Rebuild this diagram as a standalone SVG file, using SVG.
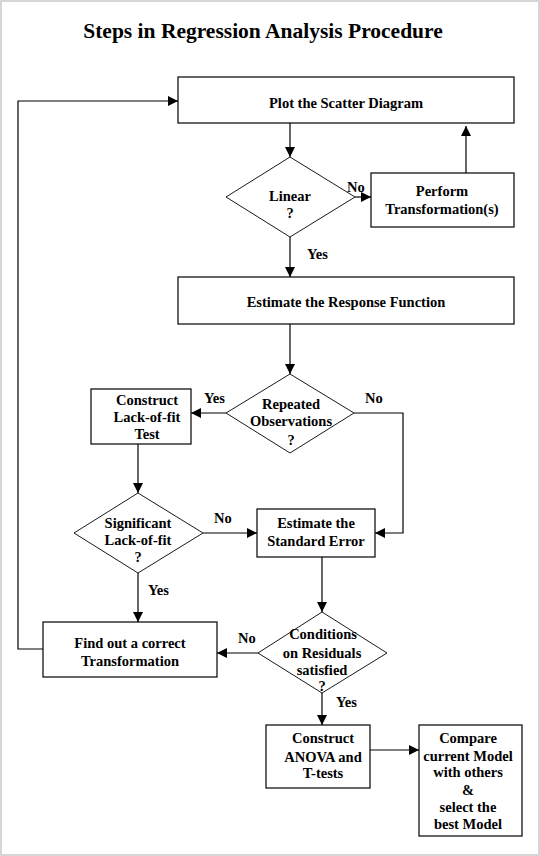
<svg xmlns="http://www.w3.org/2000/svg" width="540" height="856" viewBox="0 0 540 856">
<style>
.box{fill:#fff;stroke:#000;stroke-width:1.2}
.dia{fill:#fff;stroke:#000;stroke-width:0.9}
.t{font-family:"Liberation Serif","Times New Roman",serif;font-weight:bold;font-size:14.5px;fill:#000;text-anchor:middle}
.l{font-family:"Liberation Serif","Times New Roman",serif;font-weight:bold;font-size:14.5px;fill:#000}
.c{fill:none;stroke:#000;stroke-width:1.2}
</style>
<defs>
<marker id="ah" markerUnits="userSpaceOnUse" markerWidth="10" markerHeight="10" refX="10" refY="5" orient="auto" viewBox="0 0 10 10">
<path d="M0,0 L10,5 L0,10 z" fill="#000"/>
</marker>
</defs>
<rect x="1" y="1" width="538" height="854" fill="#fff" stroke="#d6d6d6" stroke-width="2"/>
<text x="263" y="38" style="font-family:'Liberation Serif','Times New Roman',serif;font-weight:bold;font-size:21.5px;text-anchor:middle">Steps in Regression Analysis Procedure</text>

<g id="connectors">
<line class="c" x1="290" y1="123" x2="290" y2="157" marker-end="url(#ah)"/>
<line class="c" x1="355" y1="197" x2="371" y2="197" marker-end="url(#ah)"/>
<line class="c" x1="466" y1="173" x2="466" y2="126" marker-end="url(#ah)"/>
<line class="c" x1="290" y1="237" x2="290" y2="277" marker-end="url(#ah)"/>
<line class="c" x1="290" y1="324" x2="290" y2="374" marker-end="url(#ah)"/>
<line class="c" x1="226" y1="413" x2="191" y2="413" marker-end="url(#ah)"/>
<polyline class="c" points="354,413 403,413 403,533 375,533" marker-end="url(#ah)"/>
<line class="c" x1="138" y1="444" x2="138" y2="493" marker-end="url(#ah)"/>
<line class="c" x1="203" y1="533" x2="257" y2="533" marker-end="url(#ah)"/>
<line class="c" x1="322" y1="557" x2="322" y2="612" marker-end="url(#ah)"/>
<line class="c" x1="258" y1="653" x2="217" y2="653" marker-end="url(#ah)"/>
<line class="c" x1="138" y1="573" x2="138" y2="622" marker-end="url(#ah)"/>
<polyline class="c" points="43,649 18,649 18,101 178,101" marker-end="url(#ah)"/>
<line class="c" x1="322" y1="693" x2="322" y2="725" marker-end="url(#ah)"/>
<line class="c" x1="370" y1="750" x2="419" y2="750" marker-end="url(#ah)"/>
<text class="l" x="347" y="192">No</text>
<text class="l" x="307" y="259">Yes</text>
<text class="l" x="204" y="403">Yes</text>
<text class="l" x="365" y="403">No</text>
<text class="l" x="214" y="523">No</text>
<text class="l" x="148" y="595">Yes</text>
<text class="l" x="238" y="643">No</text>
<text class="l" x="336" y="707">Yes</text>
</g>

<g id="plot">
<rect class="box" x="178" y="77" width="336" height="46"/>
<text class="t" x="346" y="108">Plot the Scatter Diagram</text>
</g>
<g id="linear">
<polygon class="dia" points="290,157 355,197 290,237 226,197"/>
<text class="t" x="290" y="201">Linear</text>
<text class="t" x="290" y="218">?</text>
</g>
<g id="perform">
<rect class="box" x="371" y="173" width="143" height="54"/>
<text class="t" x="442" y="196">Perform</text>
<text class="t" x="442" y="214">Transformation(s)</text>
</g>
<g id="estimate-response">
<rect class="box" x="178" y="277" width="336" height="47"/>
<text class="t" x="346" y="307">Estimate the Response Function</text>
</g>
<g id="repeated">
<polygon class="dia" points="290,374 354,413 290,453 226,413"/>
<text class="t" x="291" y="409">Repeated</text>
<text class="t" x="291" y="426">Observations</text>
<text class="t" x="291" y="445">?</text>
</g>
<g id="lackfit-test">
<rect class="box" x="91" y="389" width="100" height="55"/>
<text class="t" x="147" y="405">Construct</text>
<text class="t" x="147" y="422">Lack-of-fit</text>
<text class="t" x="147" y="439">Test</text>
</g>
<g id="significant">
<polygon class="dia" points="138,493 203,533 138,573 74,533"/>
<text class="t" x="138" y="528">Significant</text>
<text class="t" x="138" y="545">Lack-of-fit</text>
<text class="t" x="138" y="562">?</text>
</g>
<g id="std-error">
<rect class="box" x="257" y="509" width="118" height="48"/>
<text class="t" x="316" y="528">Estimate the</text>
<text class="t" x="316" y="546">Standard Error</text>
</g>
<g id="conditions">
<polygon class="dia" points="322,612 387,653 322,693 258,653"/>
<text class="t" x="323" y="639">Conditions</text>
<text class="t" x="322" y="658">on Residuals</text>
<text class="t" x="322" y="675">satisfied</text>
<text class="t" x="322" y="691">?</text>
</g>
<g id="find-transformation">
<rect class="box" x="43" y="622" width="174" height="55"/>
<text class="t" x="130" y="648">Find out a correct</text>
<text class="t" x="130" y="666">Transformation</text>
</g>
<g id="anova">
<rect class="box" x="266" y="725" width="104" height="63"/>
<text class="t" x="323" y="743">Construct</text>
<text class="t" x="323" y="762">ANOVA and</text>
<text class="t" x="323" y="778">T-tests</text>
</g>
<g id="compare">
<rect class="box" x="419" y="725" width="103" height="111"/>
<text class="t" x="468" y="743">Compare</text>
<text class="t" x="468" y="761">current Model</text>
<text class="t" x="468" y="777">with others</text>
<text class="t" x="468" y="795">&amp;</text>
<text class="t" x="468" y="812">select the</text>
<text class="t" x="468" y="829">best Model</text>
</g>
</svg>
